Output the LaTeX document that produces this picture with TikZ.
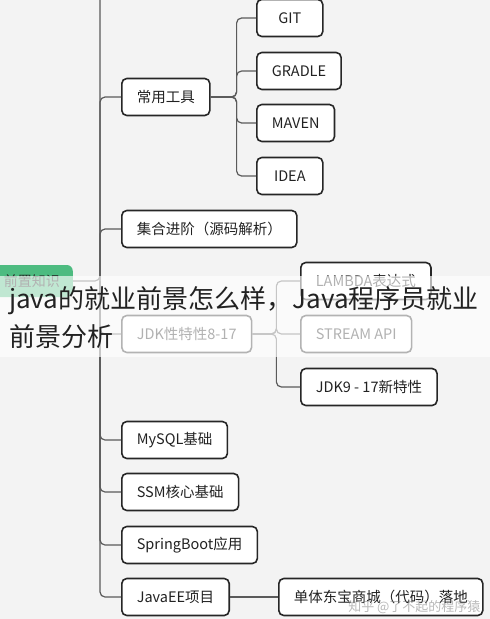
\documentclass[tikz,border=0pt]{standalone}
\usepackage{fontspec}
\setmainfont{Noto Sans CJK SC}
\usetikzlibrary{positioning}

\definecolor{bgcol}{HTML}{F3F3F3}
\definecolor{boxline}{HTML}{262626}
\definecolor{linkcol}{HTML}{5A5A5A}
\definecolor{txt}{HTML}{222222}
\definecolor{rootgreen}{HTML}{4DBB80}

\tikzset{
  topic/.style={draw=boxline, line width=1.6pt, rounded corners=5pt, fill=white,
    minimum height=37pt, minimum width=66pt, inner xsep=15pt, anchor=west,
    text=txt, font=\fontsize{14.5}{17}\selectfont},
  roottopic/.style={fill=rootgreen, rounded corners=6pt, minimum height=32pt,
    text width=70pt, align=right, inner xsep=13pt, anchor=east,
    text=txt, font=\fontsize{14}{16}\selectfont},
  link/.style={draw=linkcol, line width=1.2pt, rounded corners=5pt},
  headline/.style={text=txt, inner sep=0pt, anchor=base west,
    font=\fontsize{26}{30}\selectfont}
}

\begin{document}
\begin{tikzpicture}[x=1pt,y=-1pt]
\useasboundingbox (0,0) rectangle (490,619);
\clip (0,0) rectangle (490,619);
\fill[bgcol] (0,0) rectangle (490,619);

% main branch
\node[roottopic] (root) at (73,281) {前置知识};
\coordinate (fork) at (100,281);
\coordinate (trunktop) at (100,-3);

\node[topic] (tools) at (121,97) {常用工具};
\node[topic] (git) at (256,18) {GIT};
\node[topic] (gradle) at (256,71) {GRADLE};
\node[topic] (maven) at (256,123) {MAVEN};
\node[topic] (idea) at (256,176) {IDEA};

\node[topic] (coll) at (121,229) {集合进阶（源码解析）};

\node[topic] (jdk) at (121,334) {JDK性特性8-17};
\node[topic] (lambda) at (300,281) {LAMBDA表达式};
\node[topic] (stream) at (300,334) {STREAM API};
\node[topic] (jdk9) at (300,387) {JDK9 - 17新特性};

\node[topic] (mysql) at (121,440) {MySQL基础};
\node[topic] (ssm) at (121,492) {SSM核心基础};
\node[topic] (boot) at (121,545) {SpringBoot应用};
\node[topic] (javaee) at (121,597) {JavaEE项目};
\node[topic] (mall) at (278,597) {单体东宝商城（代码）落地};

% connectors
\draw[link] (root.east) -- (fork) -- (trunktop);
\foreach \c in {tools,coll,jdk,mysql,ssm,boot,javaee}
  \draw[link] (fork) |- (\c.west);
\foreach \c in {git,gradle,maven,idea}
  \draw[link] (tools.east) -- ([xshift=26pt]tools.east) |- (\c.west);
\foreach \c in {lambda,stream,jdk9}
  \draw[link] (jdk.east) -- ([xshift=24pt]jdk.east) |- (\c.west);
\draw[link] (javaee.east) -- (mall.west);

% title band
\fill[white, fill opacity=0.65] (0,276) rectangle (490,357);
\node[headline] (title1) at (9,308) {java的就业前景怎么样，Java程序员就业};
\node[headline] (title2) at ([yshift=-38pt]title1.base west) {前景分析};

\node[anchor=east, text=gray, opacity=0.55, font=\fontsize{13}{13}\selectfont]
  (mark) at (484,607) {知乎 @了不起的程序猿};
\end{tikzpicture}
\end{document}
